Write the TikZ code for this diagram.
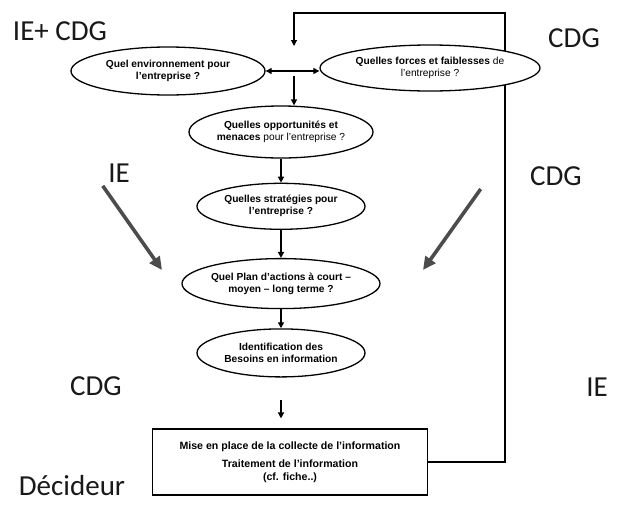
\documentclass[tikz,border=0pt]{standalone}
\usepackage{fontspec}
\setmainfont{Liberation Sans}
\newfontfamily\labfont{Carlito}
\usetikzlibrary{positioning,arrows.meta,shapes.geometric,backgrounds}

\begin{document}
\begin{tikzpicture}[x=1pt,y=-1pt,
    every node/.style={align=center},
    question/.style={ellipse, draw, fill=white, line width=1.3pt, inner sep=0pt,
        font=\fontsize{10.2}{12}\selectfont},
    who/.style={font=\labfont\fontsize{29}{32}\selectfont, text=black!90},
    bigarrow/.style={line width=3.6pt, draw=black!70,
        -{Triangle[length=13pt,width=12pt]}},
    >={Triangle[length=6pt,width=6pt]},
]
\useasboundingbox (0,0) rectangle (618,504);

% questions
\node[question, minimum width=194pt, minimum height=48pt] (env) at (168,71)
    {\textbf{Quel environnement pour}\\\textbf{l'entreprise ?}};
\node[question, minimum width=220pt, minimum height=46pt] (forces) at (430,68)
    {\textbf{Quelles forces et faiblesses} de\\l'entreprise ?};
\node[question, minimum width=184pt, minimum height=52pt] (opp) at (281,132)
    {\textbf{Quelles opportunités et}\\\textbf{menaces} pour l'entreprise ?};
\node[question, minimum width=168pt, minimum height=46pt, below=24pt of opp] (strat)
    {\textbf{Quelles stratégies pour}\\\textbf{l'entreprise ?}};
\node[question, minimum width=186pt, minimum height=50pt, below=28pt of strat] (plan)
    {\textbf{Quel Plan d'actions à court –}\\\textbf{moyen – long terme ?}};
\node[question, minimum width=168pt, minimum height=48pt, below=19pt of plan] (needs)
    {\textbf{Identification des}\\\textbf{Besoins en information}};
\node[draw, line width=1.1pt, minimum width=275pt, minimum height=66pt,
    font=\fontsize{10.6}{12.5}\selectfont\bfseries] (collect) at (290,462)
    {Mise en place de la collecte de l'information\\[6pt]
     Traitement de l'information\\(cf. fiche..)};

% who does what
\node[who] (iecdg) at (60,31) {IE+ CDG};
\node[who] (cdg1) at (574,38) {CDG};
\node[who] (ie1) at (119,173) {IE};
\node[who] (cdg2) at (556,176) {CDG};
\node[who] (cdg3) at (96,386) {CDG};
\node[who] (ie2) at (597,387) {IE};
\node[who] (dec) at (72,486) {Décideur};

\coordinate (hub) at (294,70);
\coordinate (corner) at (505,13);
\coordinate (drop) at (294,46);
\coordinate (ietip) at (162,270);
\coordinate (cdgtip) at (423,270);

\begin{scope}[on background layer]
\fill[white] (0,0) rectangle (618,504);
\draw[line width=1.1pt, ->] (collect.east) -| (corner) -| (drop);
\end{scope}
\draw[line width=1.1pt, <->] (env.east) -- (env.east -| forces.west);
\draw[line width=1.4pt, ->] ([yshift=-6pt]hub) -- (hub |- opp.north);
\draw[line width=1.4pt, ->] (opp) edge (strat)
    (strat) edge (plan)
    (plan) edge (needs)
    (needs) edge[shorten <=22pt, shorten >=10pt] (needs |- collect.north);

\draw[bigarrow] ([xshift=-2pt]ie1.south west) -- (ietip);
\draw[bigarrow] ([xshift=-46pt]cdg2.south west) -- (cdgtip);
\end{tikzpicture}
\end{document}
